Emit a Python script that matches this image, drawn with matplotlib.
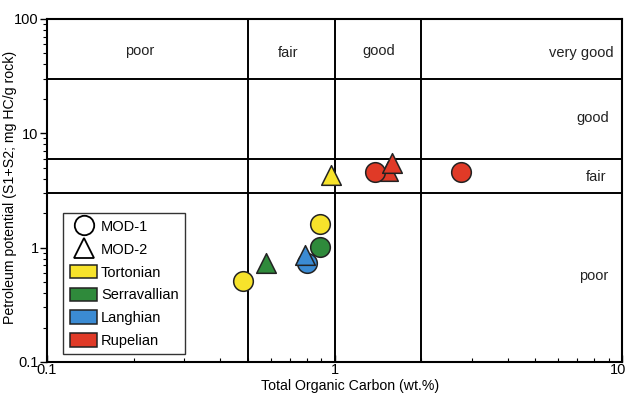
import numpy as np
import matplotlib.pyplot as plt
from matplotlib.lines import Line2D
from matplotlib.patches import Patch
import matplotlib.transforms as mtransforms

plt.rcParams['font.family'] = ['Liberation Sans', 'DejaVu Sans']

# samples in drawing order
well = ['MOD-2', 'MOD-1', 'MOD-1', 'MOD-1', 'MOD-1', 'MOD-1', 'MOD-1',
        'MOD-2', 'MOD-2', 'MOD-2', 'MOD-2']
stage = ['Rupelian', 'Rupelian', 'Rupelian', 'Tortonian', 'Tortonian',
         'Serravallian', 'Langhian', 'Rupelian', 'Tortonian', 'Serravallian',
         'Langhian']
toc = [1.53, 1.38, 2.75, 0.48, 0.89, 0.89, 0.80, 1.58, 0.97, 0.58, 0.79]
pp = [4.7, 4.6, 4.6, 0.51, 1.61, 1.01, 0.73, 5.5, 4.3, 0.73, 0.86]

stages = ['Tortonian', 'Serravallian', 'Langhian', 'Rupelian']
colors = {'Tortonian': '#f7e32b', 'Serravallian': '#2f8a3b',
          'Langhian': '#3b8bd3', 'Rupelian': '#e03a27'}
markers = {'MOD-1': 'o', 'MOD-2': '^'}

toc_limits = [0.5, 1, 2]
pp_limits = [3, 6, 30]

fs = 10.5

fig = plt.figure(figsize=(6.27, 3.93), dpi=100)
ax = fig.add_axes([0.075, 0.079, 0.917, 0.873])
ax.set_xscale('log')
ax.set_yscale('log')
ax.set_xlim(0.1, 10)
ax.set_ylim(0.1, 100)

for v in toc_limits:
    ax.axvline(v, color='black', lw=1.4, zorder=1)
for v in pp_limits:
    ax.axhline(v, color='black', lw=1.4, zorder=1)

for i in range(len(toc)):
    ax.scatter(toc[i], pp[i], s=200, marker=markers[well[i]],
               color=colors[stage[i]], edgecolor='#222222', linewidth=1.1,
               zorder=3 + i)

# TOC classes along the top, S1+S2 classes along the right
tk = dict(fontsize=fs, color='#222222')
ax.text(0.162, 0.905, 'poor', ha='center', va='center', transform=ax.transAxes, **tk)
ax.text(0.42, 0.90, 'fair', ha='center', va='center', transform=ax.transAxes, **tk)
ax.text(0.577, 0.905, 'good', ha='center', va='center', transform=ax.transAxes, **tk)
ax.text(0.985, 0.90, 'very good', ha='right', va='center', transform=ax.transAxes, **tk)
ax.text(0.977, 0.71, 'good', ha='right', va='center', transform=ax.transAxes, **tk)
ax.text(0.972, 0.54, 'fair', ha='right', va='center', transform=ax.transAxes, **tk)
ax.text(0.976, 0.25, 'poor', ha='right', va='center', transform=ax.transAxes, **tk)

handles = [Line2D([], [], marker='o', ls='none', mfc='white', mec='black',
                  ms=14, mew=1.3, label='MOD-1'),
           Line2D([], [], marker='^', ls='none', mfc='white', mec='black',
                  ms=14, mew=1.3, label='MOD-2')]
for s in stages:
    handles.append(Patch(facecolor=colors[s], edgecolor='#222222', lw=1.1, label=s))
leg = ax.legend(handles=handles, loc='lower left', bbox_to_anchor=(0.028, 0.022),
                fontsize=fs, frameon=True, fancybox=False, edgecolor='black',
                borderpad=0.45, labelspacing=0.55, handlelength=1.9,
                handletextpad=0.25, handleheight=1.05, borderaxespad=0)
leg.get_frame().set_linewidth(1.0)
leg.set_zorder(20)

ax.set_xticks([0.1, 1, 10])
ax.set_xticklabels(['0.1', '1', '10'])
ax.set_yticks([0.1, 1, 10, 100])
ax.set_yticklabels(['0.1', '1', '10', '100'])
ax.tick_params(axis='x', which='both', direction='in', labelsize=fs, pad=1)
ax.tick_params(axis='y', which='both', direction='out', labelsize=fs, pad=1)
ax.tick_params(which='major', length=5, width=1)
ax.tick_params(which='minor', length=3, width=0.8)
for sp in ax.spines.values():
    sp.set_linewidth(1.5)

# keep the last x tick label inside the figure
lbl = ax.get_xticklabels()[-1]
lbl.set_transform(lbl.get_transform() + mtransforms.ScaledTranslation(-4 / 100, 0, fig.dpi_scale_trans))

ax.set_xlabel('Total Organic Carbon (wt.%)', fontsize=10.2)
ax.set_ylabel('Petroleum potential (S1+S2; mg HC/g rock)', fontsize=10.2)
ax.xaxis.set_label_coords(0.527, -0.05)
ax.yaxis.set_label_coords(-0.052, 0.51)

fig.savefig('out.png', dpi=100)
